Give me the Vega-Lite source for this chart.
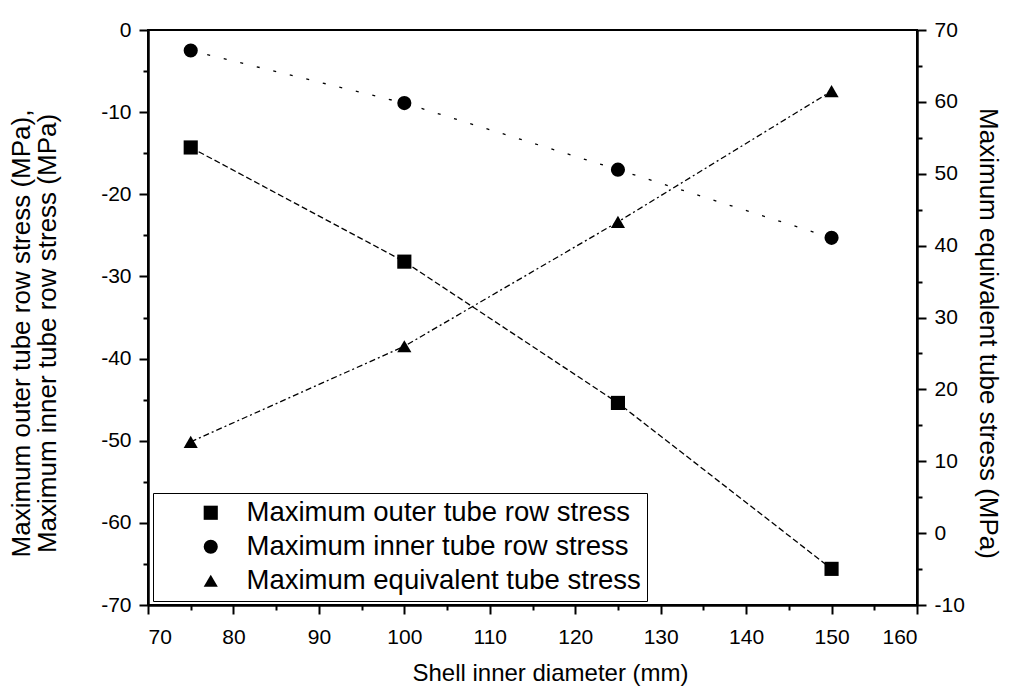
{
  "$schema": "https://vega.github.io/schema/vega-lite/v6.json",
  "autosize": "none",
  "width": 769,
  "height": 575,
  "padding": {"left": 148, "top": 30, "right": 98, "bottom": 86},
  "background": "white",
  "config": {
    "font": "Liberation Sans",
    "view": {"stroke": "black", "strokeWidth": 2},
    "axis": {
      "domainColor": "black",
      "domainWidth": 2.5,
      "tickColor": "black",
      "tickWidth": 2,
      "labelColor": "black",
      "titleColor": "black",
      "labelFont": "Liberation Sans",
      "titleFont": "Liberation Sans",
      "labelFontSize": 21,
      "titleFontWeight": "normal",
      "grid": false
    },
    "legend": {
      "labelFont": "Liberation Sans",
      "labelFontSize": 27.5,
      "labelColor": "black"
    }
  },
  "data": {
    "values": [
      {"d": 75, "series": "Maximum outer tube row stress", "value": -14.3},
      {"d": 100, "series": "Maximum outer tube row stress", "value": -28.2},
      {"d": 125, "series": "Maximum outer tube row stress", "value": -45.4},
      {"d": 150, "series": "Maximum outer tube row stress", "value": -65.6},
      {"d": 75, "series": "Maximum inner tube row stress", "value": -2.5},
      {"d": 100, "series": "Maximum inner tube row stress", "value": -8.9},
      {"d": 125, "series": "Maximum inner tube row stress", "value": -17.0},
      {"d": 150, "series": "Maximum inner tube row stress", "value": -25.3},
      {"d": 75, "series": "Maximum equivalent tube stress", "value": 12.7},
      {"d": 100, "series": "Maximum equivalent tube stress", "value": 26.0},
      {"d": 125, "series": "Maximum equivalent tube stress", "value": 43.3},
      {"d": 150, "series": "Maximum equivalent tube stress", "value": 61.5}
    ]
  },
  "encoding": {
    "x": {
      "field": "d",
      "type": "quantitative",
      "scale": {"domain": [70, 160], "nice": false, "zero": false},
      "axis": {
        "title": "Shell inner diameter (mm)",
        "titleFontSize": 24,
        "titlePadding": 14,
        "titleX": 402,
        "values": [70, 75, 80, 85, 90, 95, 100, 105, 110, 115, 120, 125, 130, 135, 140, 145, 150, 155, 160],
        "labelExpr": "datum.value % 10 === 0 ? '' + datum.value : ''",
        "tickSize": {"condition": {"test": "datum.value % 10 !== 0", "value": 5}, "value": 9},
        "labelPadding": 12
      }
    }
  },
  "layer": [
    {
      "transform": [{"filter": "datum.series !== 'Maximum equivalent tube stress'"}],
      "encoding": {
        "y": {
          "field": "value",
          "type": "quantitative",
          "scale": {"domain": [-70, 0], "nice": false, "zero": false},
          "axis": {
            "orient": "left",
            "title": ["Maximum outer tube row stress (MPa),", "Maximum inner tube row stress (MPa)"],
            "titleFontSize": 26,
            "titlePadding": 40,
            "titleLineHeight": 26,
            "titleY": 303,
            "values": [-70, -65, -60, -55, -50, -45, -40, -35, -30, -25, -20, -15, -10, -5, 0],
            "labelExpr": "datum.value % 10 === 0 ? '' + datum.value : ''",
            "tickSize": {"condition": {"test": "datum.value % 10 !== 0", "value": 5}, "value": 9},
            "labelPadding": 8
          }
        }
      },
      "layer": [
        {
          "transform": [{"filter": "datum.series === 'Maximum outer tube row stress'"}],
          "mark": {"type": "line", "color": "black", "strokeWidth": 1.3, "strokeDash": [6, 3]},
          "encoding": {}
        },
        {
          "transform": [{"filter": "datum.series === 'Maximum inner tube row stress'"}],
          "mark": {"type": "line", "color": "black", "strokeWidth": 1.3, "strokeDash": [3, 14]},
          "encoding": {}
        },
        {
          "mark": {"type": "point", "filled": true, "color": "black", "opacity": 1, "size": 200},
          "encoding": {
            "shape": {
              "field": "series",
              "type": "nominal",
              "scale": {
                "domain": ["Maximum outer tube row stress", "Maximum inner tube row stress", "Maximum equivalent tube stress"],
                "range": ["square", "circle", "triangle-up"]
              },
              "legend": {
                "title": null,
                "orient": "none",
                "legendX": 5,
                "legendY": 463,
                "strokeColor": "black",
                "padding": 6,
                "symbolOffset": 38,
                "symbolSize": 200,
                "symbolFillColor": "black",
                "symbolStrokeColor": "black",
                "symbolStrokeWidth": 0,
                "labelOffset": 22,
                "rowPadding": 5,
                "labelLimit": 500
              }
            }
          }
        }
      ]
    },
    {
      "transform": [{"filter": "datum.series === 'Maximum equivalent tube stress'"}],
      "encoding": {
        "y": {
          "field": "value",
          "type": "quantitative",
          "scale": {"domain": [-10, 70], "nice": false, "zero": false},
          "axis": {
            "orient": "right",
            "title": "Maximum equivalent tube stress (MPa)",
            "titleFontSize": 26,
            "titlePadding": 10,
            "titleY": 303,
            "values": [-10, -5, 0, 5, 10, 15, 20, 25, 30, 35, 40, 45, 50, 55, 60, 65, 70],
            "labelExpr": "datum.value % 10 === 0 ? '' + datum.value : ''",
            "tickSize": {"condition": {"test": "datum.value % 10 !== 0", "value": 5}, "value": 9},
            "labelPadding": 8
          }
        }
      },
      "layer": [
        {
          "mark": {"type": "line", "color": "black", "strokeWidth": 1.3, "strokeDash": [6, 3, 2, 3]},
          "encoding": {}
        },
        {
          "mark": {"type": "point", "filled": true, "color": "black", "opacity": 1, "size": 200},
          "encoding": {
            "shape": {
              "field": "series",
              "type": "nominal",
              "scale": {
                "domain": ["Maximum outer tube row stress", "Maximum inner tube row stress", "Maximum equivalent tube stress"],
                "range": ["square", "circle", "triangle-up"]
              }
            }
          }
        }
      ]
    }
  ],
  "resolve": {"scale": {"y": "independent"}, "axis": {"y": "independent"}}
}
